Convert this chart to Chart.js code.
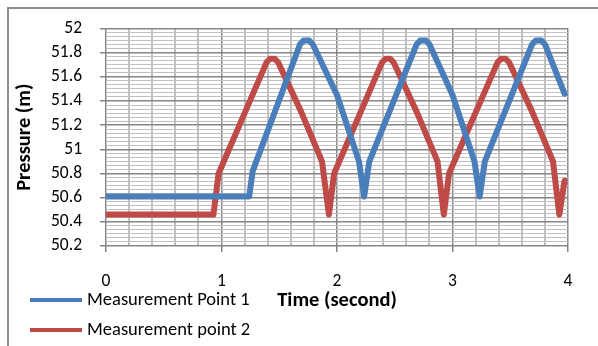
<!DOCTYPE html>
<html>
<head>
<meta charset="utf-8">
<script src="https://cdn.jsdelivr.net/npm/chart.js@4.4.0/dist/chart.umd.min.js"></script>
<style>
  html, body { margin: 0; padding: 0; background: #fff; }
</style>
</head>
<body>
<canvas id="chartPresion" width="598" height="346"></canvas>
<script>
// --- 1. DATOS ---
const tiempoP1 = [0, 1.24, 1.27, 1.68, 1.71, 1.76, 1.79, 2.0, 2.19, 2.235, 2.28, 2.69, 2.72, 2.77, 2.80, 3.0, 3.19, 3.235, 3.28, 3.69, 3.72, 3.77, 3.80, 3.97];
const presionP1 = [50.61, 50.61, 50.82, 51.87, 51.9, 51.9, 51.87, 51.45, 50.9, 50.61, 50.9, 51.87, 51.9, 51.9, 51.87, 51.45, 50.9, 50.61, 50.9, 51.87, 51.9, 51.9, 51.87, 51.46];

const tiempoP2 = [0, 0.93, 0.975, 1.39, 1.42, 1.46, 1.49, 1.69, 1.87, 1.93, 1.975, 2.39, 2.42, 2.46, 2.49, 2.69, 2.87, 2.925, 2.97, 3.39, 3.42, 3.46, 3.49, 3.69, 3.87, 3.925, 3.97];
const presionP2 = [50.46, 50.46, 50.8, 51.72, 51.75, 51.75, 51.72, 51.31, 50.9, 50.46, 50.8, 51.72, 51.75, 51.75, 51.72, 51.31, 50.9, 50.46, 50.8, 51.72, 51.75, 51.75, 51.72, 51.31, 50.9, 50.46, 50.74];

const nombresSeries = ['Measurement Point 1', 'Measurement point 2'];
const ejeY = { min: 50.2, max: 52, paso: 0.2 };
const ejeX = { min: 0, max: 4, paso: 1 };

const colores = {
    azul: '#4A7EBB',
    rojo: '#BE4B48',
    gridMayor: '#878787',
    gridMenor: '#C0C0C0',
    borde: '#8E8E8E'
};

const fuente = 'Carlito, Lato, "Open Sans", sans-serif';

// --- 2. UTILIDADES ---
const esMayorY = v => Math.abs(v / ejeY.paso - Math.round(v / ejeY.paso)) < 1e-6;
const esMayorX = v => Math.abs(v / ejeX.paso - Math.round(v / ejeX.paso)) < 1e-6;
const aPuntos = (xs, ys) => xs.map((x, i) => ({ x: x, y: ys[i] }));

// marco exterior del gráfico
const marcoExterior = {
    id: 'marcoExterior',
    beforeDraw(chart) {
        const ctx = chart.ctx;
        ctx.save();
        ctx.fillStyle = '#fff';
        ctx.fillRect(0, 0, chart.width, chart.height);
        ctx.strokeStyle = colores.borde;
        ctx.lineWidth = 2;
        ctx.strokeRect(8, 8, chart.width + 20, chart.height + 20);
        ctx.restore();
    }
};

// leyenda apilada abajo a la izquierda
const leyendaApilada = {
    id: 'leyendaApilada',
    afterDraw(chart) {
        const ctx = chart.ctx;
        ctx.save();
        chart.data.datasets.forEach((ds, i) => {
            const y = 300 + i * 30;
            ctx.strokeStyle = ds.borderColor;
            ctx.lineWidth = 4;
            ctx.beginPath();
            ctx.moveTo(30, y);
            ctx.lineTo(82, y);
            ctx.stroke();
            ctx.fillStyle = '#000';
            ctx.font = '18.5px ' + fuente;
            ctx.textBaseline = 'middle';
            ctx.textAlign = 'left';
            ctx.fillText(ds.label, 87, y);
        });
        ctx.restore();
    }
};

// --- 3. CHART ---
const ctx = document.getElementById('chartPresion').getContext('2d');

new Chart(ctx, {
    type: 'line',
    data: {
        datasets: [
            {
                label: nombresSeries[0],
                data: aPuntos(tiempoP1, presionP1),
                borderColor: colores.azul,
                backgroundColor: colores.azul
            },
            {
                label: nombresSeries[1],
                data: aPuntos(tiempoP2, presionP2),
                borderColor: colores.rojo,
                backgroundColor: colores.rojo
            }
        ]
    },
    options: {
        responsive: false,
        animation: false,
        layout: { padding: { left: 6, top: 23, right: 30, bottom: 33 } },
        elements: {
            point: { radius: 0, hoverRadius: 0 },
            line: { borderWidth: 6, tension: 0, borderJoinStyle: 'round', borderCapStyle: 'round' }
        },
        plugins: {
            legend: { display: false },
            tooltip: { enabled: false }
        },
        scales: {
            x: {
                type: 'linear',
                min: ejeX.min,
                max: ejeX.max,
                afterFit: s => { s.height = 67; },
                border: { display: false },
                grid: {
                    color: c => esMayorX(c.tick.value) ? colores.gridMayor : colores.gridMenor,
                    lineWidth: c => esMayorX(c.tick.value) ? 1.5 : 2,
                    tickColor: c => esMayorX(c.tick.value) ? colores.gridMayor : 'rgba(0,0,0,0)',
                    tickLength: 6
                },
                ticks: {
                    stepSize: 0.2,
                    autoSkip: false,
                    maxRotation: 0,
                    padding: 19,
                    color: '#000',
                    font: { family: fuente, size: 17.5 },
                    callback: v => esMayorX(v) ? String(Math.round(v)) : ''
                },
                title: {
                    display: true,
                    text: 'Time (second)',
                    color: '#000',
                    font: { family: fuente, size: 20.5, weight: 'bold' },
                    padding: { top: 0, bottom: 0 }
                }
            },
            y: {
                min: ejeY.min,
                max: ejeY.max,
                afterFit: s => { s.width = 100; },
                border: { display: false },
                grid: {
                    color: c => esMayorY(c.tick.value) ? colores.gridMayor : colores.gridMenor,
                    lineWidth: c => esMayorY(c.tick.value) ? 1.5 : 1,
                    tickColor: c => esMayorY(c.tick.value) ? colores.gridMayor : 'rgba(0,0,0,0)',
                    tickLength: 6
                },
                ticks: {
                    stepSize: ejeY.paso / 6,
                    autoSkip: false,
                    padding: 18,
                    color: '#000',
                    font: { family: fuente, size: 17.5 },
                    callback: v => esMayorY(v) ? String(Number(v.toFixed(1))) : ''
                },
                title: {
                    display: true,
                    text: 'Pressure (m)',
                    color: '#000',
                    font: { family: fuente, size: 20.5, weight: 'bold' },
                    padding: { top: 7, bottom: 0 }
                }
            }
        }
    },
    plugins: [marcoExterior, leyendaApilada]
});
</script>
</body>
</html>
